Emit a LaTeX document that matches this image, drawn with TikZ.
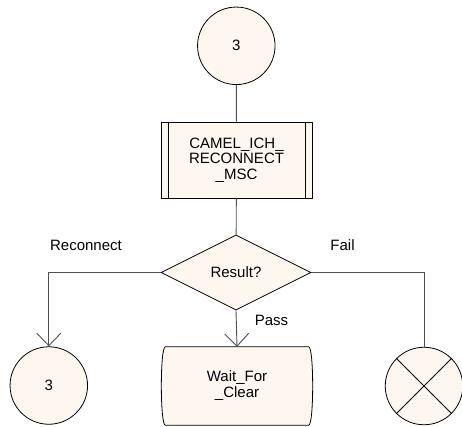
\documentclass[tikz,border=0pt]{standalone}
\usepackage{fontspec}
\setmainfont{Liberation Sans}
\usetikzlibrary{shapes.geometric,arrows.meta}
\definecolor{sdlfill}{RGB}{253,247,240}
\definecolor{conn}{RGB}{80,80,80}
\begin{document}
\begin{tikzpicture}[x=1pt,y=-1pt,
  every node/.style={font=\fontsize{15}{15.5}\selectfont},
  shapeline/.style={draw=black,line width=0.8pt,fill=sdlfill},
  connector/.style={draw=conn,line width=0.9pt},
  conncircle/.style={shapeline,circle,minimum size=77.5pt,inner sep=0pt},
  procbox/.style={shapeline,rectangle,minimum width=151pt,minimum height=76pt,inner sep=0pt,align=center},
  decision/.style={shapeline,diamond,minimum width=150pt,minimum height=75pt,inner sep=0pt},
  statebox/.style={rectangle,minimum width=151pt,minimum height=78pt,inner sep=0pt,align=center},
  barb/.style={-{Straight Barb[length=12.5pt,width=24pt]}},
  lbl/.style={inner sep=0pt}
]
\useasboundingbox (0,0) rectangle (462,426);

\node[conncircle] (top) at (236.3,45.8) {3};
\node[procbox] (proc) at (236.5,160) {CAMEL\_ICH\_\\RECONNECT\\\_MSC};
\draw[black,line width=0.8pt] ([xshift=7.5pt]proc.north west) -- ([xshift=7.5pt]proc.south west);
\draw[black,line width=0.8pt] ([xshift=-7.5pt]proc.north east) -- ([xshift=-7.5pt]proc.south east);
\node[decision] (dec) at (236,272.5) {Result?};

\node[conncircle] (left) at (48.8,385.5) {3};
\node[conncircle] (right) at (424,386) {};
\draw[black,line width=0.8pt] (right.north west) -- (right.south east);
\draw[black,line width=0.8pt] (right.north east) -- (right.south west);

\node[statebox] (wait) at (237,386) {};
\fill[sdlfill,draw=black,line width=0.8pt]
  ([xshift=4pt]wait.north west) -- ([xshift=-4pt]wait.north east)
  .. controls ([xshift=1.3pt]wait.north east) and ([xshift=1.3pt]wait.south east) .. ([xshift=-4pt]wait.south east)
  -- ([xshift=4pt]wait.south west)
  .. controls ([xshift=-1.3pt]wait.south west) and ([xshift=-1.3pt]wait.north west) .. ([xshift=4pt]wait.north west) -- cycle;
\node[align=center,font=\fontsize{15}{16}\selectfont] (waittext) at (wait.center) {Wait\_For\\\_Clear};

\draw[connector] (top) -- (proc);
\draw[connector] (proc) -- (dec);
\draw[connector,barb] (dec.west) -| (left.north);
\draw[connector,barb] (dec.south) -- (wait.north);
\draw[connector] (dec.east) -| (right.north);

\node[lbl] (lreconnect) at (86,245) {Reconnect};
\node[lbl] (lfail) at (342.5,245) {Fail};
\node[lbl] (lpass) at (271.5,320) {Pass};
\end{tikzpicture}
\end{document}
